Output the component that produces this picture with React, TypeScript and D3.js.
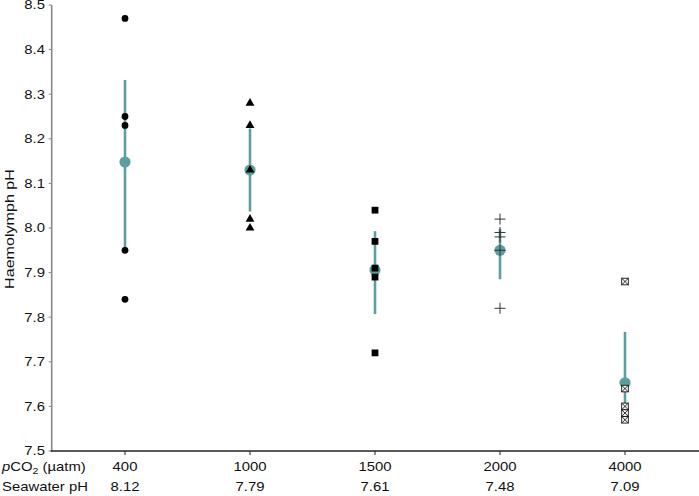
import React from "react";
import * as d3 from "d3";

const categories = ["400", "1000", "1500", "2000", "4000"];
const seawaterPH = ["8.12", "7.79", "7.61", "7.48", "7.09"];
const yTicks = [7.5, 7.6, 7.7, 7.8, 7.9, 8.0, 8.1, 8.2, 8.3, 8.4, 8.5];

const g400 = [8.47, 8.25, 8.23, 7.95, 7.84];
const g1000 = [8.28, 8.23, 8.13, 8.02, 8.0];
const g1500 = [8.04, 7.97, 7.91, 7.89, 7.72];
const g2000 = [8.02, 7.99, 7.98, 7.95, 7.82];
const g4000 = [7.88, 7.64, 7.6, 7.585, 7.57];

const means = [8.148, 8.13, 7.906, 7.95, 7.653];
const upper = [8.332, 8.223, 7.993, 7.998, 7.767];
const lower = [7.948, 8.037, 7.807, 7.885, 7.575];

const groups = [g400, g1000, g1500, g2000, g4000];
const markerTypes = ["circle", "triangle", "square", "plus", "boxx"];

const W = 699;
const H = 496;
const TEAL = "#5f9ea0";
const SX = 1.24;
const FONT = "'Liberation Sans', Arial, sans-serif";

function Txt({ x, y, anchor = "start", size = 12, children, rotate = 0 }: any) {
  const t = rotate
    ? `translate(${x},${y}) rotate(${rotate}) scale(${SX},1)`
    : `translate(${x},${y}) scale(${SX},1)`;
  return (
    <text transform={t} textAnchor={anchor} fontSize={size} fontFamily={FONT} fill="#111">
      {children}
    </text>
  );
}

function Marker({ type, x, y }: any) {
  if (type === "circle") return <circle cx={x} cy={y} r={3.4} fill="#000" />;
  if (type === "triangle") {
    const p = d3.symbol().type(d3.symbolTriangle).size(34)();
    return <path d={p as string} transform={`translate(${x},${y})`} fill="#000" />;
  }
  if (type === "square") {
    const p = d3.symbol().type(d3.symbolSquare).size(46)();
    return <path d={p as string} transform={`translate(${x},${y})`} fill="#000" />;
  }
  if (type === "plus") {
    const s = 5.5;
    return (
      <g stroke="#333" strokeWidth={1}>
        <line x1={x - s} x2={x + s} y1={y} y2={y} />
        <line x1={x} x2={x} y1={y - s} y2={y + s} />
      </g>
    );
  }
  const s = 3.3;
  return (
    <g stroke="#111" strokeWidth={0.9} fill="#fff">
      <rect x={x - s} y={y - s} width={2 * s} height={2 * s} />
      <line x1={x - s} x2={x + s} y1={y - s} y2={y + s} />
      <line x1={x - s} x2={x + s} y1={y + s} y2={y - s} />
    </g>
  );
}

export default function App() {
  const x = d3.scaleLinear().domain([0.4136, 5.592]).range([51.7, 699]);
  const y = d3.scaleLinear().domain([7.5, 8.5]).range([451, 5]);
  const axX = x(0.4136);

  return (
    <svg width={W} height={H} style={{ position: "absolute", left: 0, top: 0, background: "#fff" }}>
      {/* y axis */}
      <line x1={axX} x2={axX} y1={y(8.5)} y2={y(7.5)} stroke="#888" strokeWidth={1.6} />
      {yTicks.map((t) => (
        <g key={t}>
          <line x1={axX - 3} x2={axX} y1={y(t)} y2={y(t)} stroke="#888" strokeWidth={1} />
          <Txt x={45} y={y(t) + 4.3} anchor="end">
            {d3.format(".1f")(t)}
          </Txt>
        </g>
      ))}
      {/* x axis */}
      <line x1={axX - 1} x2={W} y1={y(7.5)} y2={y(7.5)} stroke="#222" strokeWidth={1.3} />
      {categories.map((c, i) => (
        <line key={c} x1={x(i + 1)} x2={x(i + 1)} y1={y(7.5)} y2={y(7.5) + 4} stroke="#222" strokeWidth={1} />
      ))}
      {/* y title */}
      <Txt x={13.5} y={229} anchor="middle" size={13} rotate={-90}>
        Haemolymph pH
      </Txt>
      {/* bottom label rows */}
      <text transform={`translate(2,471) scale(${SX},1)`} fontSize={12} fontFamily={FONT} fill="#111">
        <tspan fontStyle="italic">p</tspan>
        <tspan>CO</tspan>
        <tspan fontSize={8.5} dy={3}>2</tspan>
        <tspan dy={-3}> (µatm)</tspan>
      </text>
      <Txt x={2} y={491}>Seawater pH</Txt>
      {categories.map((c, i) => (
        <Txt key={c} x={x(i + 1)} y={471} anchor="middle">
          {c}
        </Txt>
      ))}
      {seawaterPH.map((c, i) => (
        <Txt key={c} x={x(i + 1)} y={491} anchor="middle">
          {c}
        </Txt>
      ))}
      {/* error bars and means */}
      {means.map((m, i) => (
        <g key={i}>
          <line x1={x(i + 1)} x2={x(i + 1)} y1={y(upper[i])} y2={y(lower[i])} stroke={TEAL} strokeWidth={2.6} />
          <circle cx={x(i + 1)} cy={y(m)} r={5.6} fill={TEAL} />
        </g>
      ))}
      {/* raw points */}
      {groups.map((g, i) =>
        g.map((v, j) => <Marker key={`${i}-${j}`} type={markerTypes[i]} x={x(i + 1)} y={y(v)} />)
      )}
    </svg>
  );
}
